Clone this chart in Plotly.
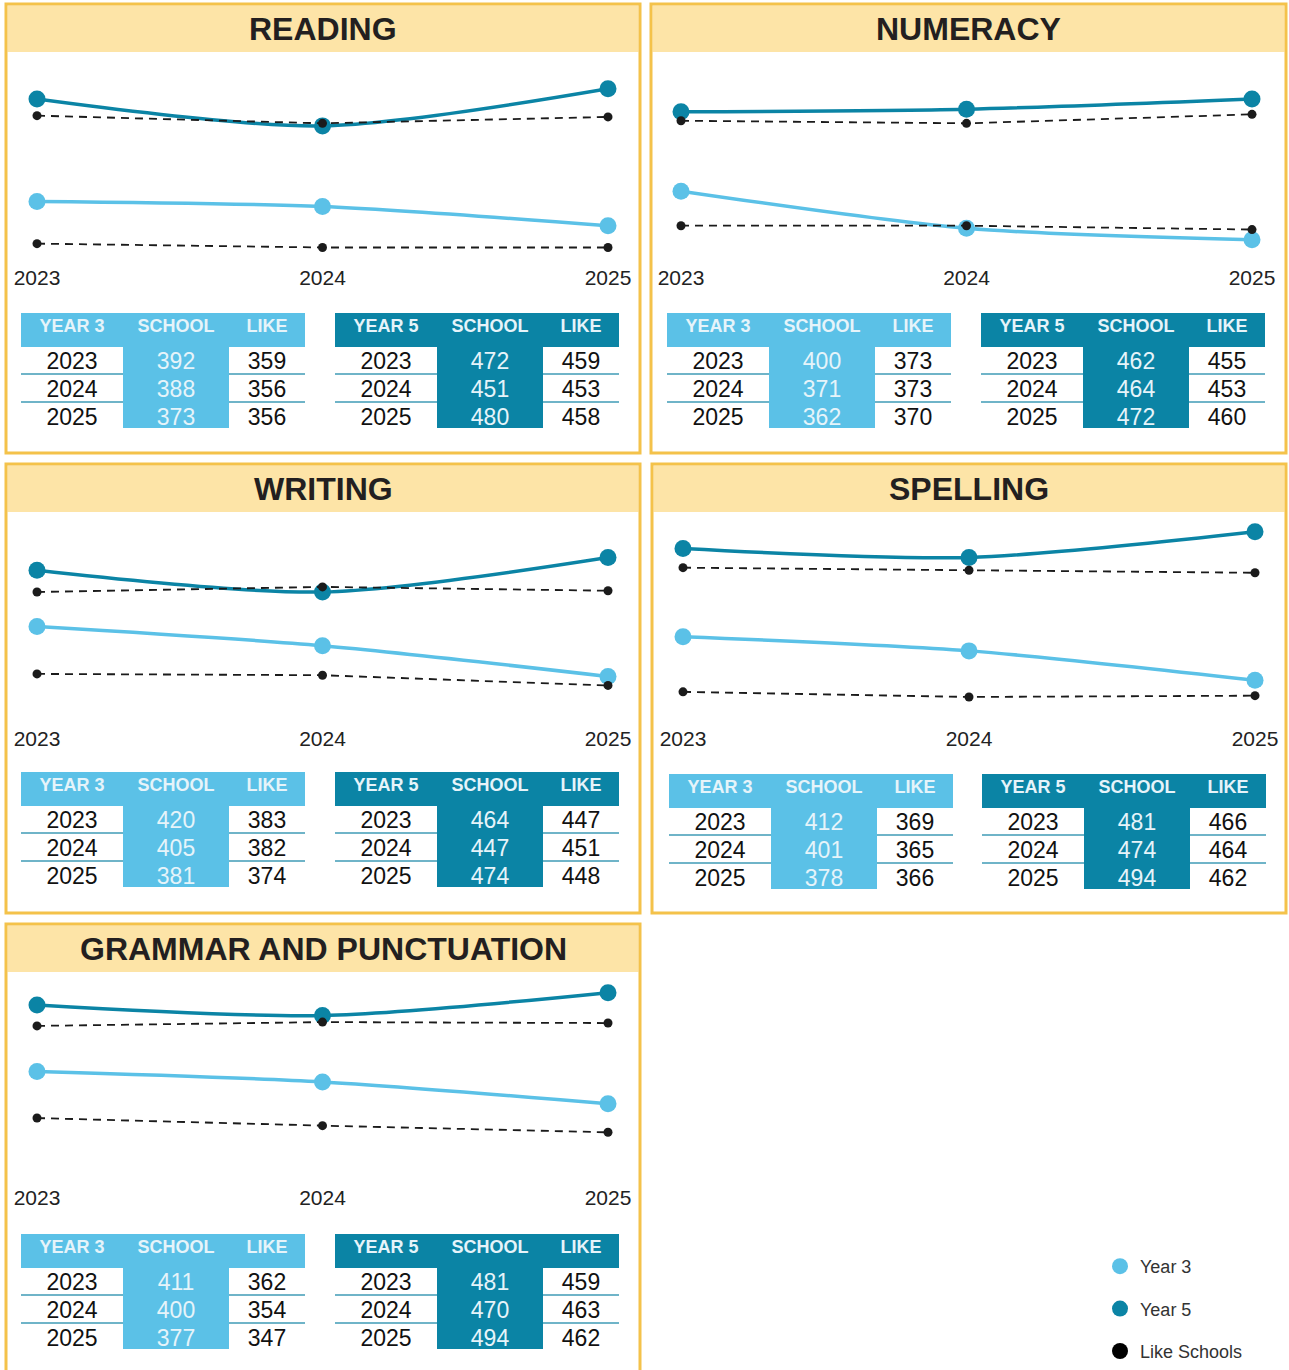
import plotly.graph_objects as go

W, H = 1289, 1370

# ---------------- data ----------------
years = [2023, 2024, 2025]
year_labels = ["2023", "2024", "2025"]

subjects = ["READING", "NUMERACY", "WRITING", "SPELLING", "GRAMMAR AND PUNCTUATION"]

reading_y3_school = [392, 388, 373]
reading_y3_like = [359, 356, 356]
reading_y5_school = [472, 451, 480]
reading_y5_like = [459, 453, 458]

numeracy_y3_school = [400, 371, 362]
numeracy_y3_like = [373, 373, 370]
numeracy_y5_school = [462, 464, 472]
numeracy_y5_like = [455, 453, 460]

writing_y3_school = [420, 405, 381]
writing_y3_like = [383, 382, 374]
writing_y5_school = [464, 447, 474]
writing_y5_like = [447, 451, 448]

spelling_y3_school = [412, 401, 378]
spelling_y3_like = [369, 365, 366]
spelling_y5_school = [481, 474, 494]
spelling_y5_like = [466, 464, 462]

grammar_y3_school = [411, 400, 377]
grammar_y3_like = [362, 354, 347]
grammar_y5_school = [481, 470, 494]
grammar_y5_like = [459, 463, 462]

header_y3 = ["YEAR 3", "SCHOOL", "LIKE"]
header_y5 = ["YEAR 5", "SCHOOL", "LIKE"]
legend_labels = ["Year 3", "Year 5", "Like Schools"]

# ---------------- styles ----------------
LIGHT = "#5bc1e7"
DARK = "#0b84a5"
LIKE = "#1b1b1b"
GOLD = "#f4c24a"
BAND = "#fde4a7"
SEP = "#3f9bb6"
PALE = "#e6f4fa"
FONT = "Liberation Sans, Arial, sans-serif"

series = {
    "READING": (reading_y3_school, reading_y3_like, reading_y5_school, reading_y5_like),
    "NUMERACY": (numeracy_y3_school, numeracy_y3_like, numeracy_y5_school, numeracy_y5_like),
    "WRITING": (writing_y3_school, writing_y3_like, writing_y5_school, writing_y5_like),
    "SPELLING": (spelling_y3_school, spelling_y3_like, spelling_y5_school, spelling_y5_like),
    "GRAMMAR AND PUNCTUATION": (grammar_y3_school, grammar_y3_like, grammar_y5_school, grammar_y5_like),
}

# layout geometry (pixels)
RANGE_A = (343.875, 518.09)
RANGE_B = (293.63, 528.37)
geom = {
    "READING": dict(bx=(6, 640), top=4, cx=(37, 608), dy=0, tx=(21, 335), tt=313, yr=RANGE_A),
    "NUMERACY": dict(bx=(651, 1286), top=4, cx=(681, 1252), dy=0, tx=(667, 981), tt=313, yr=RANGE_A),
    "WRITING": dict(bx=(6, 640), top=464, cx=(37, 608), dy=461, tx=(21, 335), tt=772, yr=RANGE_A),
    "SPELLING": dict(bx=(652, 1286), top=464, cx=(683, 1255), dy=461, tx=(669, 982), tt=774, yr=RANGE_A),
    "GRAMMAR AND PUNCTUATION": dict(bx=(6, 640), top=924, cx=(37, 608), dy=920, tx=(21, 335), tt=1234, yr=RANGE_B),
}

COLS = [102, 106, 76]          # table column widths (px)
TW = sum(COLS)
HEAD_H = 34
ROW_H = 28
SCHOOL_H = 81
TH = HEAD_H + 3 * ROW_H


def px(x):
    return x / W


def py(y):
    return 1 - y / H


fig = go.Figure()
shapes = []
annotations = []
axes = {}
ax_n = 0


def new_axes():
    global ax_n
    ax_n += 1
    s = "" if ax_n == 1 else str(ax_n)
    return "x" + s, "y" + s, "xaxis" + s, "yaxis" + s


for name in subjects:
    g = geom[name]
    y3s, y3l, y5s, y5l = series[name]

    # panel frame and title band
    bx0, bx1 = g["bx"]
    top = g["top"]
    shapes.append(dict(type="rect", xref="paper", yref="paper",
                       x0=px(bx0 + 1.5), x1=px(bx1 - 1.5), y0=py(top + 48), y1=py(top + 1.5),
                       fillcolor=BAND, line=dict(width=0), layer="below"))
    shapes.append(dict(type="rect", xref="paper", yref="paper",
                       x0=px(bx0), x1=px(bx1), y0=py(top + 449), y1=py(top),
                       fillcolor="rgba(0,0,0,0)", line=dict(color=GOLD, width=3), layer="below"))
    annotations.append(dict(xref="paper", yref="paper", x=px((bx0 + bx1) / 2), y=py(top + 25),
                            text=f"<b>{name}</b>", showarrow=False, xanchor="center", yanchor="middle",
                            font=dict(family=FONT, size=32, color="#231f20")))

    # ---- line chart ----
    xa, ya, xk, yk = new_axes()
    cx0, cx1 = g["cx"]
    dy = g["dy"]
    axes[xk] = dict(domain=[px(cx0), px(cx1)], range=[2023, 2025], anchor=ya,
                    showgrid=False, zeroline=False, showline=False, ticks="",
                    tickvals=years, ticktext=year_labels, automargin=False,
                    tickfont=dict(family=FONT, size=21, color="#222222"), fixedrange=True)
    axes[yk] = dict(domain=[py(263 + dy), py(40 + dy)], range=list(g["yr"]), anchor=xa,
                    showgrid=False, zeroline=False, showline=False, showticklabels=False,
                    ticks="", automargin=False, fixedrange=True)

    for vals, col in ((y5s, DARK), (y3s, LIGHT)):
        fig.add_trace(go.Scatter(x=years, y=vals, xaxis=xa, yaxis=ya, mode="lines+markers",
                                 line=dict(color=col, width=3.5, shape="spline", smoothing=0.8),
                                 marker=dict(size=17, color=col), cliponaxis=False,
                                 showlegend=False, hoverinfo="skip"))
    for vals in (y5l, y3l):
        fig.add_trace(go.Scatter(x=years, y=vals, xaxis=xa, yaxis=ya, mode="lines+markers",
                                 line=dict(color=LIKE, width=1.8, dash="8px,6px"),
                                 marker=dict(size=9, color=LIKE), cliponaxis=False,
                                 showlegend=False, hoverinfo="skip"))

    # ---- tables (own axes, pixel-like units, y downwards) ----
    xa, ya, xk, yk = new_axes()
    t0 = g["tx"][0]
    span = g["tx"][1] - t0 + TW
    tt = g["tt"]
    axes[xk] = dict(domain=[px(t0), px(t0 + span)], range=[0, span], anchor=ya, visible=False,
                    automargin=False, fixedrange=True)
    axes[yk] = dict(domain=[py(tt + TH), py(tt)], range=[TH, 0], anchor=xa, visible=False,
                    automargin=False, fixedrange=True)

    for off, hdr, school, like, col in ((0, header_y3, y3s, y3l, LIGHT),
                                        (g["tx"][1] - t0, header_y5, y5s, y5l, DARK)):
        cxs = [off + COLS[0] / 2, off + COLS[0] + COLS[1] / 2, off + COLS[0] + COLS[1] + COLS[2] / 2]
        # header background and school column background
        fig.add_trace(go.Bar(x=[off + TW / 2, cxs[1]], y=[HEAD_H, SCHOOL_H], base=[0, HEAD_H],
                             width=[TW, COLS[1]], marker=dict(color=col, line=dict(width=0)),
                             xaxis=xa, yaxis=ya, showlegend=False, hoverinfo="skip"))
        # separators
        sx, sy = [], []
        for r in (1, 2):
            yl = HEAD_H + r * ROW_H - 1
            sx += [off, off + COLS[0], None, off + COLS[0] + COLS[1], off + TW, None]
            sy += [yl, yl, None, yl, yl, None]
        fig.add_trace(go.Scatter(x=sx, y=sy, mode="lines", line=dict(color=SEP, width=1.5),
                                 xaxis=xa, yaxis=ya, showlegend=False, hoverinfo="skip"))
        # header text
        fig.add_trace(go.Scatter(x=cxs, y=[14] * 3, mode="text",
                                 text=[f"<b>{h}</b>" for h in hdr], textposition="middle center",
                                 textfont=dict(family=FONT, size=18, color=PALE),
                                 xaxis=xa, yaxis=ya, showlegend=False, hoverinfo="skip"))
        # body text
        tx_, ty_, tt_, tc_ = [], [], [], []
        for r in range(3):
            yc = HEAD_H + r * ROW_H + 16
            for c, (val, fc) in enumerate(((year_labels[r], "#111111"), (str(school[r]), PALE),
                                           (str(like[r]), "#111111"))):
                tx_.append(cxs[c]); ty_.append(yc); tt_.append(val); tc_.append(fc)
        fig.add_trace(go.Scatter(x=tx_, y=ty_, mode="text", text=tt_, textposition="middle center",
                                 textfont=dict(family=FONT, size=23, color=tc_),
                                 xaxis=xa, yaxis=ya, showlegend=False, hoverinfo="skip"))

# legend entries
for lab, col in zip(legend_labels, (LIGHT, DARK, "#000000")):
    fig.add_trace(go.Scatter(x=[None], y=[None], mode="markers", name=lab, legendgroup=lab,
                             marker=dict(size=20, color=col), xaxis="x", yaxis="y"))

fig.update_layout(
    width=W, height=H, margin=dict(l=0, r=0, t=0, b=0, autoexpand=False),
    paper_bgcolor="white", plot_bgcolor="rgba(0,0,0,0)",
    barmode="overlay", bargap=0,
    shapes=shapes, annotations=annotations,
    legend=dict(x=px(1100), y=py(1248), xanchor="left", yanchor="top",
                traceorder="grouped", tracegroupgap=16, bgcolor="rgba(0,0,0,0)",
                font=dict(family=FONT, size=18, color="#333333"), itemsizing="trace"),
    showlegend=True,
    **axes,
)

fig.write_html("out.html")
